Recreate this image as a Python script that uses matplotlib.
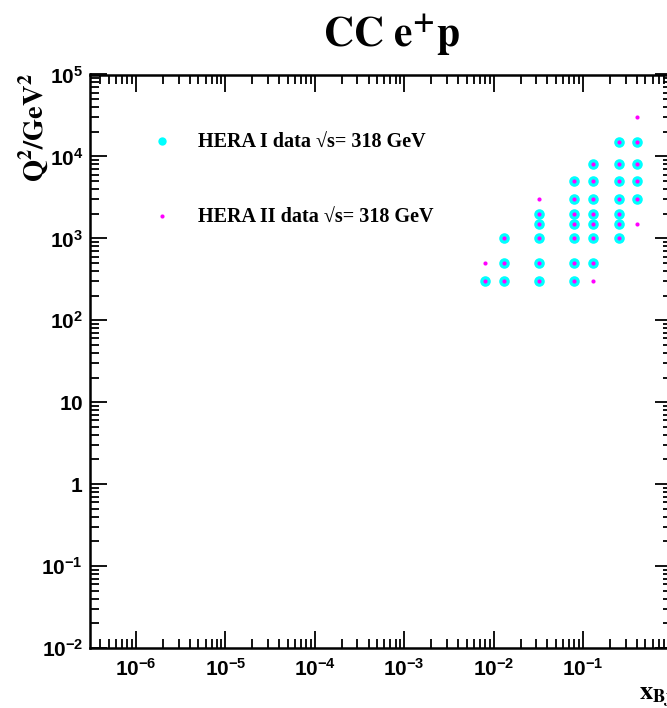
import numpy as np
import matplotlib
matplotlib.use('Agg')
import matplotlib.pyplot as plt
from matplotlib.ticker import LogLocator, FuncFormatter, NullFormatter
from matplotlib.lines import Line2D

# CC e+p measured bins, HERA I
hera1_x = [0.008,
           0.013, 0.013, 0.013,
           0.032, 0.032, 0.032, 0.032, 0.032,
           0.08, 0.08, 0.08, 0.08, 0.08, 0.08, 0.08,
           0.13, 0.13, 0.13, 0.13, 0.13, 0.13, 0.13,
           0.25, 0.25, 0.25, 0.25, 0.25, 0.25, 0.25,
           0.4, 0.4, 0.4, 0.4]
hera1_q2 = [300,
            300, 500, 1000,
            300, 500, 1000, 1500, 2000,
            300, 500, 1000, 1500, 2000, 3000, 5000,
            500, 1000, 1500, 2000, 3000, 5000, 8000,
            1000, 1500, 2000, 3000, 5000, 8000, 15000,
            3000, 5000, 8000, 15000]

# HERA II
hera2_x = [0.008, 0.008,
           0.013, 0.013, 0.013,
           0.032, 0.032, 0.032, 0.032, 0.032, 0.032,
           0.08, 0.08, 0.08, 0.08, 0.08, 0.08, 0.08,
           0.13, 0.13, 0.13, 0.13, 0.13, 0.13, 0.13, 0.13,
           0.25, 0.25, 0.25, 0.25, 0.25, 0.25, 0.25,
           0.4, 0.4, 0.4, 0.4, 0.4, 0.4]
hera2_q2 = [300, 500,
            300, 500, 1000,
            300, 500, 1000, 1500, 2000, 3000,
            300, 500, 1000, 1500, 2000, 3000, 5000,
            300, 500, 1000, 1500, 2000, 3000, 5000, 8000,
            1000, 1500, 2000, 3000, 5000, 8000, 15000,
            1500, 3000, 5000, 8000, 15000, 30000]

legend_labels = ['HERA I data √s= 318 GeV', 'HERA II data √s= 318 GeV']

plt.rcParams['font.family'] = ['Liberation Sans', 'DejaVu Sans']
plt.rcParams['mathtext.fontset'] = 'custom'
plt.rcParams['mathtext.rm'] = 'Liberation Sans:bold'
plt.rcParams['mathtext.it'] = 'Liberation Sans:italic'
plt.rcParams['mathtext.bf'] = 'Liberation Sans:bold'

serif = ['Liberation Serif', 'DejaVu Serif']


def log_label(v, pos):
    n = int(round(np.log10(v)))
    if n == 0:
        return '$1$'
    if n == 1:
        return '$10$'
    return '$10^{%d}$' % n


def kinematic_plane():
    fig = plt.figure(figsize=(6.67, 7.08), dpi=100)
    W, H = 667.0, 708.0
    left, right, top, bottom = 90.0, 672.4, 74.5, 648.0
    ax = fig.add_axes([left / W, 1 - bottom / H, (right - left) / W, (bottom - top) / H])

    ax.plot(hera1_x, hera1_q2, 'o', ls='none', color='#00ffff', markersize=7.6, markeredgewidth=0)
    ax.plot(hera2_x, hera2_q2, 'o', ls='none', color='#ff00ff', markersize=3.0, markeredgewidth=0)

    ax.set_xscale('log')
    ax.set_yscale('log')
    ax.set_xlim(3.06e-7, 1.0)
    ax.set_ylim(1e-2, 1e5)

    for axis in (ax.xaxis, ax.yaxis):
        axis.set_major_locator(LogLocator(base=10, numticks=20))
        axis.set_minor_locator(LogLocator(base=10, subs=np.arange(2, 10), numticks=20))
        axis.set_major_formatter(FuncFormatter(log_label))
        axis.set_minor_formatter(NullFormatter())

    ax.tick_params(which='both', direction='in', top=True, right=True, width=1.3, labelsize=15)
    ax.tick_params(which='major', length=12.5)
    ax.tick_params(which='minor', length=6.5)
    ax.tick_params(axis='x', pad=7)
    ax.tick_params(axis='y', pad=5)
    for s in ax.spines.values():
        s.set_linewidth(1.8)

    handles = [Line2D([], [], ls='none', marker='o', color='#00ffff', markersize=6, markeredgewidth=0),
               Line2D([], [], ls='none', marker='o', color='#ff00ff', markersize=3, markeredgewidth=0)]
    ax.legend(handles, legend_labels, loc='upper left', bbox_to_anchor=(0.1065, 0.898),
              frameon=False, borderpad=0, borderaxespad=0, handlelength=1.0,
              handletextpad=1.3, labelspacing=2.75,
              prop=dict(family=serif, weight='bold', size=14.5))

    fig.text(391 / W, 1 - 47 / H, r'$\mathbf{CC\ e^{+}p}$', math_fontfamily='stix',
             fontsize=30, ha='center', va='baseline')
    fig.text(34 / W, 1 - 73 / H, r'$\mathbf{Q^{2}/GeV^{2}}$', math_fontfamily='stix',
             fontsize=20.5, rotation=90, ha='center', va='top')
    fig.text(672 / W, 1 - 700 / H, r'$\mathbf{x_{Bj}}$', math_fontfamily='stix',
             fontsize=19, ha='right', va='baseline')

    fig.savefig('out.png', dpi=100)


if __name__ == '__main__':
    kinematic_plane()
